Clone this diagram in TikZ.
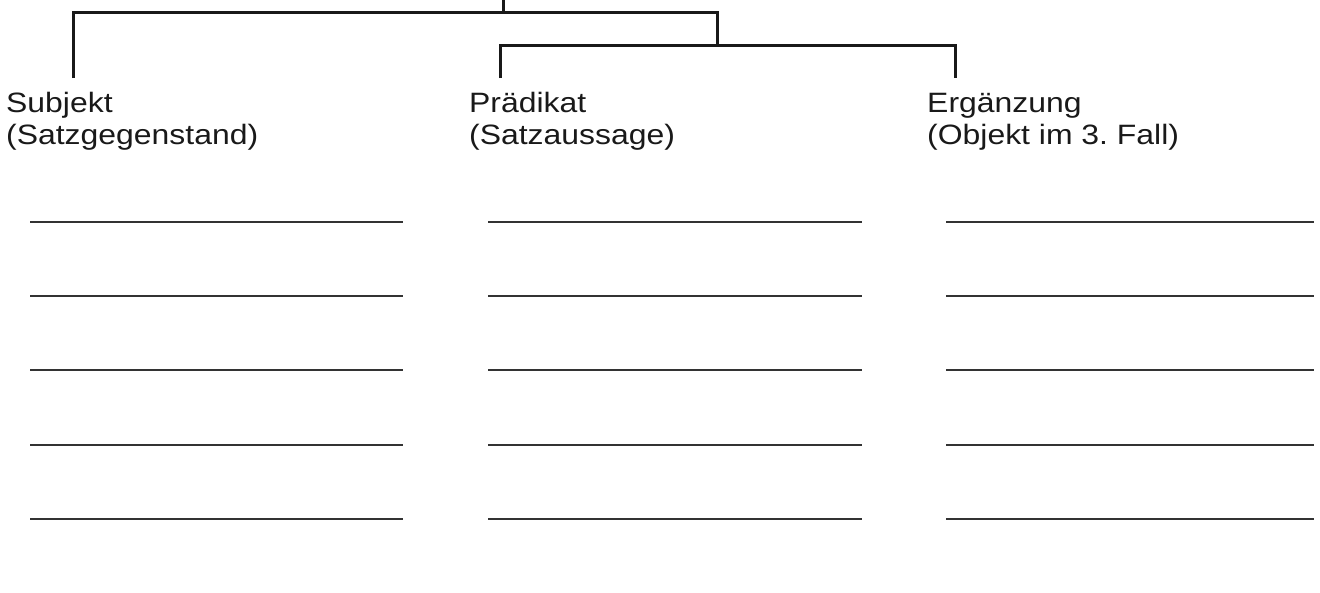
\documentclass[tikz,border=0pt]{standalone}
\usepackage{fontspec}
\setmainfont{Liberation Sans}[FakeStretch=1.14]
\frenchspacing
\begin{document}
\begin{tikzpicture}[x=1pt,y=-1pt,
  bracket/.style={line width=3pt,color=black!90,line cap=butt,line join=miter},
  label/.style={anchor=base west,inner sep=0pt,font=\fontsize{28}{32}\selectfont,text=black!90},
  blank/.style={line width=2pt,color=black!80}]
\useasboundingbox (0,0) rectangle (1320,592);
% tree coordinates
\coordinate (root) at (503.5,0);
\coordinate (j1) at (503.5,12.5);
\coordinate (l1) at (73.5,12.5);
\coordinate (r1) at (717.5,12.5);
\coordinate (j2) at (717.5,45.5);
\coordinate (l2) at (500.5,45.5);
\coordinate (r2) at (955.5,45.5);
\coordinate (subjTop) at (73.5,78);
\coordinate (praedTop) at (500.5,78);
\coordinate (ergTop) at (955.5,78);
% labels
\node[label] (subj1) at (6,112) {Subjekt};
\node[label] (subj2) at (6,144) {(Satzgegenstand)};
\node[label] (praed1) at (469,112) {Prädikat};
\node[label] (praed2) at (469,144) {(Satzaussage)};
\node[label] (erg1) at (927,112) {Ergänzung};
\node[label] (erg2) at (927,144) {(Objekt im 3. Fall)};
% connectors
\draw[bracket] (root) -- (j1);
\draw[bracket] (subjTop) -- (l1) -- (r1) -- (j2);
\draw[bracket] (praedTop) -- (l2) -- (r2) -- (ergTop);
% answer lines
\foreach \yy in {222,296,370,445,519}{
  \draw[blank] (30,\yy) -- (403,\yy);
  \draw[blank] (488,\yy) -- (862,\yy);
  \draw[blank] (946,\yy) -- (1314,\yy);
}
\end{tikzpicture}
\end{document}
